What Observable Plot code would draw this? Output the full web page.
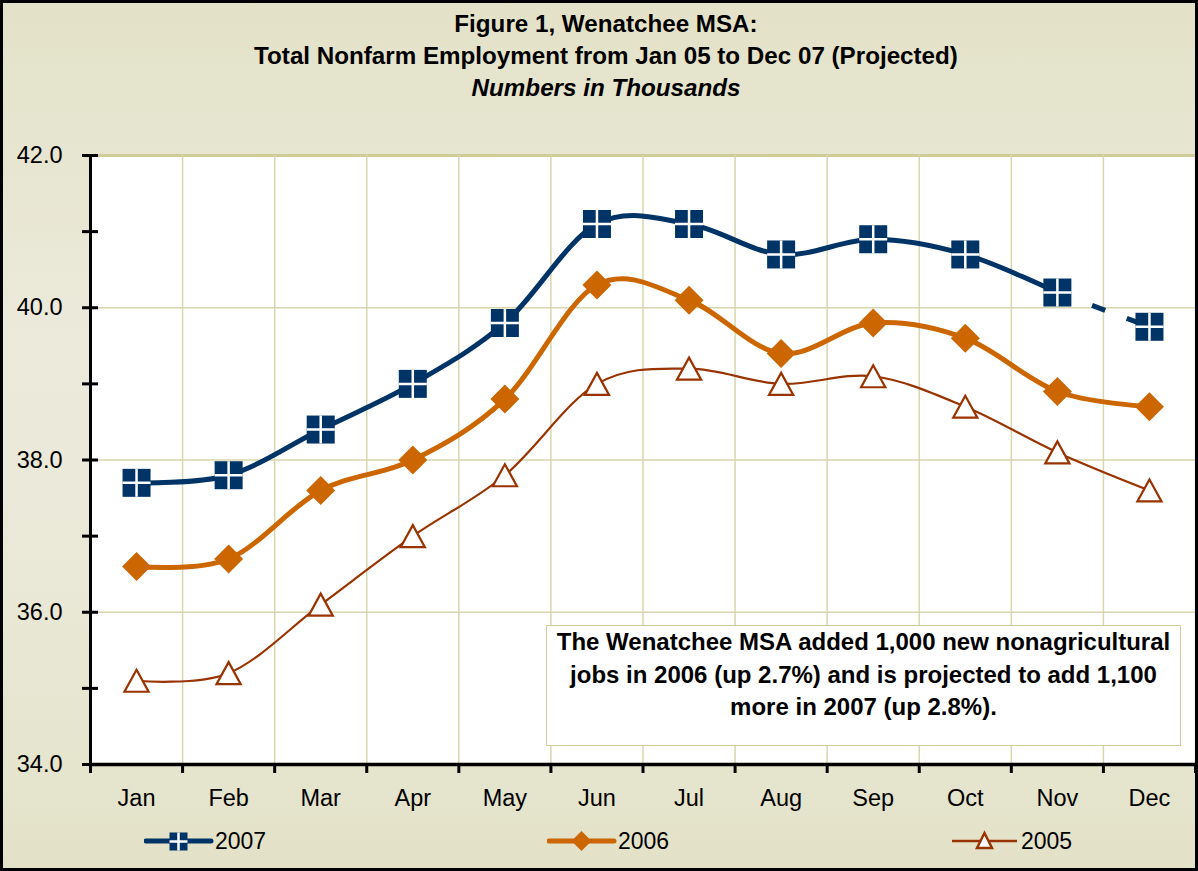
<!DOCTYPE html>
<html><head><meta charset="utf-8">
<script src="https://cdn.jsdelivr.net/npm/d3@7"></script>
<script src="https://cdn.jsdelivr.net/npm/@observablehq/plot@0.6"></script>
<style>
body{margin:0;background:#fff;font-family:"Liberation Sans",Arial,sans-serif;}
#chart{position:relative;width:1198px;height:871px;box-sizing:border-box;border:3px solid #000;
  background:linear-gradient(to bottom,#e3e2c8 0%,#eceadb 40%,#eae9d8 65%,#e3e2c8 100%);overflow:hidden;}
#title{position:absolute;left:7px;top:5px;width:1192px;text-align:center;font-weight:bold;font-size:24.2px;line-height:32px;color:#000;}
#plot{position:absolute;left:0;top:137px;}
#note{position:absolute;left:543px;top:622px;width:635px;height:121px;box-sizing:border-box;background:#fff;border:1px solid #cfcc9a;
  text-align:center;font-weight:bold;font-size:24px;line-height:32.5px;padding-top:0px;color:#000;}
.leg{position:absolute;top:826px;height:24px;display:flex;align-items:center;font-size:23px;color:#000;}
.leg svg{margin-right:1px;}
</style></head>
<body>
<div id="chart">
  <div id="title">Figure 1, Wenatchee MSA:<br>Total Nonfarm Employment from Jan 05 to Dec 07 (Projected)<br><i>Numbers in Thousands</i></div>
  <div id="plot"></div>
  <div id="note">The Wenatchee MSA added 1,000 new nonagricultural jobs in 2006 (up 2.7%) and is projected to add 1,100 more in 2007 (up 2.8%).</div>
  <div class="leg" style="left:141px"><svg width="70" height="24"><line x1="2" y1="12" x2="67" y2="12" stroke="#003366" stroke-width="5" stroke-linecap="round"/><rect x="25.5" y="3.5" width="18" height="18" fill="#003366"/><line x1="25.5" y1="12.5" x2="43.5" y2="12.5" stroke="#fff" stroke-width="2.5"/><line x1="34.5" y1="3.5" x2="34.5" y2="21.5" stroke="#fff" stroke-width="2.5"/></svg><span>2007</span></div>
  <div class="leg" style="left:544px"><svg width="70" height="24"><line x1="2" y1="12" x2="67" y2="12" stroke="#cc6600" stroke-width="5" stroke-linecap="round"/><path d="M34.5,2L44.5,12L34.5,22L24.5,12Z" fill="#cc6600"/></svg><span>2006</span></div>
  <div class="leg" style="left:947px"><svg width="70" height="24"><line x1="2" y1="12" x2="67" y2="12" stroke="#993300" stroke-width="2.5"/><path d="M34.5,4L42,19L27,19Z" fill="#fff" stroke="#993300" stroke-width="2.5"/></svg><span>2005</span></div>
</div>
<script>
const months = ["Jan","Feb","Mar","Apr","May","Jun","Jul","Aug","Sep","Oct","Nov","Dec"];
const emp2007 = [37.7, 37.8, 38.4, 39.0, 39.8, 41.1, 41.1, 40.7, 40.9, 40.7, 40.2, 39.75];
const emp2006 = [36.6, 36.7, 37.6, 38.0, 38.8, 40.3, 40.1, 39.4, 39.8, 39.6, 38.9, 38.7];
const emp2005 = [35.1, 35.2, 36.1, 37.0, 37.8, 39.0, 39.2, 39.0, 39.1, 38.7, 38.1, 37.6];
const yTicks = [34, 36, 38, 40, 42];
const yMinorTicks = [34, 35, 36, 37, 38, 39, 40, 41, 42];

const C07 = "#003366", C06 = "#cc6600", C05 = "#993300", GRID = "#d8d6ad";
const rec = arr => arr.map((v, i) => ({i, v, m: months[i]}));
const r07 = rec(emp2007), r06 = rec(emp2006), r05 = rec(emp2005);
const bounds = months.map((_, i) => i + 0.5);           // category boundaries
const allBounds = [-0.5, ...bounds];

const squareSym = {draw(c, s){ const r = Math.sqrt(s / Math.PI); c.rect(-r, -r, 2*r, 2*r); }};
const crossSym = {draw(c, s){ const r = Math.sqrt(s / Math.PI); c.moveTo(-r, 0); c.lineTo(r, 0); c.moveTo(0, -r); c.lineTo(0, r); }};
const diamondSym = {draw(c, s){ const r = Math.sqrt(s / Math.PI); c.moveTo(0, -r); c.lineTo(r, 0); c.lineTo(0, r); c.lineTo(-r, 0); c.closePath(); }};
const triSym = {draw(c, s){ const r = Math.sqrt(s / Math.PI); c.moveTo(0, -r); c.lineTo(r*1.1, r); c.lineTo(-r*1.1, r); c.closePath(); }};

const pxX = 1 / 92.08, pxY = 1 / 76.1;
const FONT = "'Liberation Sans', Arial, sans-serif";

const chart = Plot.plot({
  width: 1192, height: 680,
  marginLeft: 87, marginTop: 15, marginBottom: 56, marginRight: 0,
  style: {fontFamily: FONT, fontSize: "23.5px", background: "transparent", color: "#000", overflow: "visible"},
  x: {domain: [-0.5, 11.5], axis: null},
  y: {domain: [34, 42], axis: null},
  marks: [
    Plot.frame({fill: "white", stroke: "none"}),
    Plot.ruleY(yTicks.filter(d => d > 34 && d < 42), {stroke: GRID, strokeWidth: 1.5}),
    Plot.ruleY([42], {stroke: "#cfcc98", strokeWidth: 3}),
    Plot.ruleX(bounds, {stroke: GRID, strokeWidth: 1.5}),
    Plot.line(r05, {x: "i", y: "v", stroke: C05, strokeWidth: 2.2, curve: "cardinal", tension: 0}),
    Plot.line(r06, {x: "i", y: "v", stroke: C06, strokeWidth: 5, curve: "cardinal", tension: 0}),
    Plot.line(r07.slice(0, 11), {x: "i", y: "v", stroke: C07, strokeWidth: 5, curve: "cardinal", tension: 0}),
    Plot.line(r07.slice(10), {x: "i", y: "v", stroke: C07, strokeWidth: 5, strokeLinecap: "butt", strokeDasharray: "0 37 14 23 13 200"}),
    Plot.dot(r05, {x: "i", y: "v", symbol: triSym, r: 11, fill: "white", stroke: C05, strokeWidth: 2.2}),
    Plot.dot(r06, {x: "i", y: "v", symbol: diamondSym, r: 14.5, fill: C06, stroke: "none"}),
    Plot.dot(r07, {x: "i", y: "v", symbol: squareSym, r: 14, fill: C07, stroke: "none"}),
    Plot.dot(r07, {x: "i", y: "v", symbol: crossSym, r: 14, fill: "none", stroke: "white", strokeWidth: 2.5}),
    Plot.ruleY(yMinorTicks, {x1: -0.5 - 8 * pxX, x2: -0.5 + 8 * pxX, stroke: "#000", strokeWidth: 3}),
    Plot.ruleX(allBounds, {y1: 34, y2: 34 - 9 * pxY, stroke: "#000", strokeWidth: 3}),
    Plot.ruleX([-0.5], {y1: 34, y2: 42, stroke: "#000", strokeWidth: 3}),
    Plot.ruleY([34], {x1: -0.5, x2: 11.5, stroke: "#000", strokeWidth: 3.5}),
    Plot.text(r07, {x: "i", y: 34, text: "m", dy: 34, fontSize: 23.5, fontFamily: FONT, fill: "#000"}),
    Plot.text(yTicks, {x: -0.5, y: d => d, text: d3.format(".1f"), textAnchor: "end", dx: -28, fontSize: 23.5, fontFamily: FONT, fill: "#000"})
  ]
});
document.getElementById("plot").appendChild(chart);
</script>
</body></html>
